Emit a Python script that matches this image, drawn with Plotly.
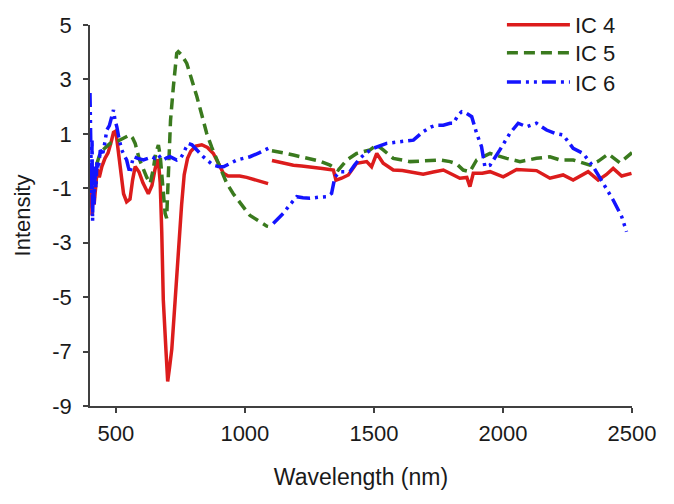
import plotly.graph_objects as go

# ---------------- data ----------------
ic4_x = [400, 404, 408, 412, 416, 420, 428, 436, 446, 458, 470, 482, 491, 500, 510, 520, 530, 542, 555, 565,
         575, 590, 605, 626, 640, 652, 661, 665, 672, 678, 684, 694, 701, 708, 717, 730, 742, 755, 765, 778,
         790, 810, 833, 855, 878, 900, 917, 935, 955, 980, 1007, 1040, 1060, 1085, 1090,
         None,
         1105, 1150, 1188, 1220, 1252, 1300, 1343, 1353, 1375, 1401, 1433, 1472, 1491, 1511, 1536, 1575, 1610,
         1640, 1691, 1730, 1769, 1808, 1833, 1860, 1872, 1885, 1920, 1950, 2001, 2053, 2090, 2130, 2182, 2233,
         2272, 2330, 2369, 2400, 2427, 2460, 2498]
ic4_y = [-1.2, -0.5, -2.0, -0.9, -1.6, -1.0, -0.3, -0.6, -0.2, 0.1, 0.3, 0.7, 1.05, 1.1, 0.4, -0.5, -1.2, -1.5, -1.4, -0.7,
         -0.2, -0.4, -0.8, -1.2, -0.9, -0.3, 0.05, 0.0, -0.8, -2.6, -5.1, -6.9, -8.1, -7.6, -6.9, -5.1, -3.3, -1.6, -0.5, 0.1,
         0.35, 0.55, 0.6, 0.5, 0.28, -0.1, -0.45, -0.55, -0.55, -0.55, -0.6, -0.68, -0.75, -0.82, -0.83,
         None,
         0.02, -0.08, -0.15, -0.18, -0.21, -0.27, -0.33, -0.7, -0.63, -0.51, -0.08, -0.02, -0.21, 0.28, -0.08, -0.33, -0.35,
         -0.39, -0.48, -0.4, -0.33, -0.51, -0.63, -0.6, -0.94, -0.45, -0.45, -0.39, -0.58, -0.31, -0.33, -0.35, -0.63, -0.51,
         -0.7, -0.39, -0.7, -0.5, -0.27, -0.55, -0.45]

ic5_x = [400, 405, 410, 415, 420, 430, 439, 455, 478, 500, 517, 535, 555, 565, 575, 590, 607, 620, 633, 645,
         655, 665, 672, 680, 684, 691, 697, 704, 712, 723, 736, 742, 755, 775, 795, 814, 833, 852, 872, 891,
         910, 930, 955, 981, 1007, 1020, 1050, 1070, 1085, 1090,
         None,
         1105, 1130, 1160, 1188, 1220, 1252, 1290, 1330, 1362, 1395, 1433, 1485, 1511, 1536, 1575, 1640, 1704,
         1756, 1795, 1820, 1846, 1872, 1898, 1950, 2014, 2066, 2130, 2182, 2221, 2272, 2337, 2370, 2408, 2453, 2500]
ic5_y = [-0.4, -0.8, -0.5, -0.9, -0.3, 0.0, 0.28, 0.45, 0.65, 0.7, 0.77, 0.85, 0.96, 0.85, 0.65, 0.1, -0.33, -0.6, -0.82, -0.3,
         0.3, 0.59, 0.2, -0.6, -0.94, -1.92, -2.1, 0.04, 1.5, 2.73, 3.96, 4.02, 3.9, 3.59, 3.0, 2.37, 1.7, 1.02, 0.5, 0.04,
         -0.4, -0.82, -1.2, -1.55, -1.85, -2.0, -2.2, -2.3, -2.39, -2.4,
         None,
         0.38, 0.32, 0.28, 0.22, 0.16, 0.1, 0.0, -0.15, -0.33, 0.04, 0.28, 0.41, 0.59, 0.41, 0.1, -0.02, 0.0,
         0.04, -0.02, -0.1, -0.33, -0.39, 0.04, 0.28, 0.1, -0.02, 0.1, 0.16, 0.04, 0.04, -0.15, 0.0, 0.26, -0.06, 0.31]

ic6_x = [400, 402, 404, 406, 408, 410, 413, 416, 419, 423, 427, 432, 440, 450, 458, 465, 475, 485, 491, 497,
         504, 513, 523, 533, 542, 548, 555, 562, 568, 585, 607, 625, 639, 652, 665, 675, 684, 697, 710, 723,
         736, 750, 762, 772, 781, 795, 807, 822, 839, 858, 878, 897, 917, 940, 969, 995, 1020, 1055, 1091,
         None,
         1110, 1123, 1149, 1175, 1201, 1225, 1252, 1285, 1317, 1336, 1349, 1369, 1407, 1425, 1446, 1470, 1498,
         1549, 1601, 1653, 1691, 1720, 1743, 1769, 1795, 1808, 1827, 1840, 1859, 1879, 1898, 1917, 1930, 1950,
         1988, 2027, 2059, 2092, 2130, 2169, 2201, 2233, 2272, 2311, 2350, 2389, 2427, 2460, 2479]
ic6_y = [2.5, 0.3, 1.6, -1.2, 0.8, -2.2, -0.2, -1.6, -0.5, -1.0, 0.0, -0.3, 0.4, 0.3, 0.7, 1.14, 1.3, 1.6, 1.88, 1.5,
         1.26, 0.8, 0.41, 0.2, 0.04, -0.2, -0.45, -0.1, 0.16, 0.1, 0.04, 0.1, 0.16, 0.1, 0.22, 0.1, 0.04, 0.12, 0.16, 0.1,
         0.04, 0.1, 0.28, 0.5, 0.65, 0.6, 0.47, 0.3, 0.16, 0.0, -0.15, -0.2, -0.21, -0.1, 0.04, 0.1, 0.16, 0.3, 0.47,
         None,
         -2.29, -2.17, -1.92, -1.6, -1.31, -1.35, -1.37, -1.33, -1.31, -1.19, -0.58, -0.39, -0.39, -0.15, 0.1, 0.3, 0.47,
         0.65, 0.71, 0.77, 1.08, 1.25, 1.32, 1.32, 1.39, 1.39, 1.7, 1.81, 1.75, 1.63, 1.02, 0.53, -0.21, -0.15,
         0.41, 1.02, 1.39, 1.26, 1.39, 1.14, 1.02, 0.96, 0.47, 0.28, -0.21, -0.82, -1.43, -2.04, -2.6]

x_ticks = [500, 1000, 1500, 2000, 2500]
y_ticks = [5, 3, 1, -1, -3, -5, -7, -9]
y_tick_text = ["5", "3", "1", "-1", "-3", "-5", "-7", "-9"]

# ---------------- figure ----------------
fig = go.Figure()
fig.add_trace(go.Scatter(x=ic4_x, y=ic4_y, mode="lines", name="IC 4", legend="legend",
                         line=dict(color="#dc1c1c", width=3.5)))
fig.add_trace(go.Scatter(x=ic5_x, y=ic5_y, mode="lines", name="IC 5", legend="legend2",
                         line=dict(color="#3a7a1e", width=3.5, dash="11px,6px")))
fig.add_trace(go.Scatter(x=ic6_x, y=ic6_y, mode="lines", name="IC 6", legend="legend3",
                         line=dict(color="#1414ff", width=3.5, dash="14px,5px,3px,5px,3px,5px")))

axis_color = "#404040"
leg_common = dict(x=0.76, xanchor="left", yanchor="middle", bgcolor="rgba(0,0,0,0)",
                  borderwidth=0, itemwidth=63, font=dict(size=22))
fig.update_layout(
    width=674, height=504,
    # the page body adds an 8px offset, compensated here
    margin=dict(l=82, r=50, t=17, b=106, autoexpand=False),
    paper_bgcolor="white", plot_bgcolor="white",
    font=dict(family="Liberation Sans, Arial, sans-serif", size=22, color="#1a1a1a"),
    showlegend=True,
    legend=dict(y=1.0, **leg_common),
    legend2=dict(y=0.9265, **leg_common),
    legend3=dict(y=0.850, **leg_common),
    xaxis=dict(range=[400, 2500], tickvals=x_ticks, showline=True, linecolor=axis_color,
               linewidth=1.5, ticks="outside", ticklen=5, tickwidth=1.5, tickcolor=axis_color,
               showgrid=False, zeroline=False, automargin=False, ticklabelstandoff=2,
               title=dict(text="Wavelength (nm)", font=dict(size=23), standoff=24)),
    yaxis=dict(range=[-9, 5], tickvals=y_ticks, ticktext=y_tick_text, showline=True,
               linecolor=axis_color, linewidth=1.5, ticks="outside", ticklen=5, tickwidth=1.5,
               tickcolor=axis_color, showgrid=False, zeroline=False, automargin=False,
               ticklabelstandoff=7,
               title=dict(text="Intensity", font=dict(size=22), standoff=16)),
)

fig.write_html("out.html")
